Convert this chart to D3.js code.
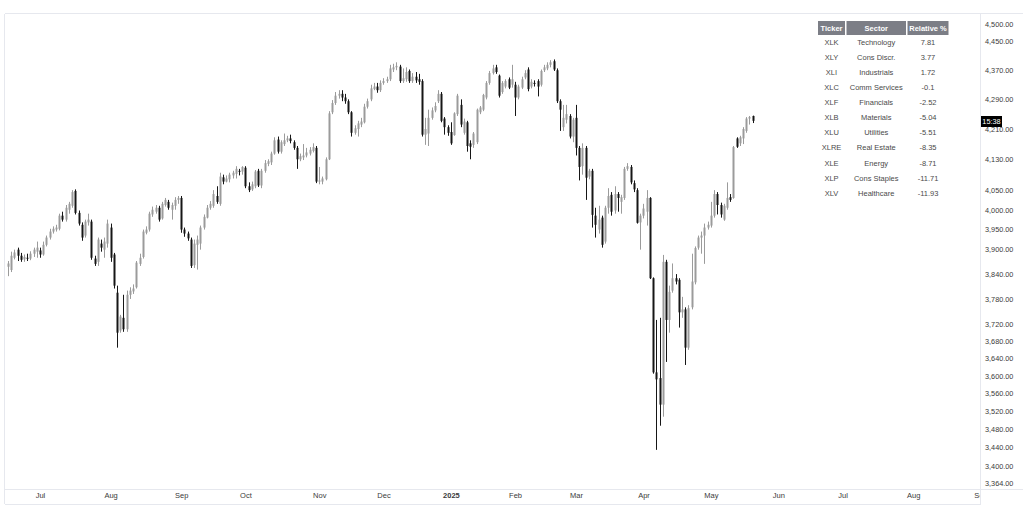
<!DOCTYPE html>
<html>
<head>
<meta charset="utf-8">
<script src="https://cdnjs.cloudflare.com/ajax/libs/d3/7.8.5/d3.min.js"></script>
<style>
  html, body { margin: 0; padding: 0; background: #fff; }
  svg { display: block; font-family: "Liberation Sans", Arial, sans-serif; }
</style>
</head>
<body>
<svg id="chart"></svg>
<script>
// daily candles, bar 0 = 14 Jun 2024, last bar = 20 May 2025
const opens = [
  3858,3850,3880,3900,3885,3876,3880,3878,3890,3895, 3898,3888,3912,3930,3945,3950,3952,3985,3975,4000,
  4010,4048,3992,3962,3935,3968,3970,3878,3870,3915, 3900,3915,3955,3888,3795,3705,3735,3708,3790,3798,
  3808,3865,3882,3942,3950,3988,3995,4005,3978,4012, 4020,4000,4010,4025,4030,3950,3940,3925,3862,3912,
  3915,3955,3980,4005,4010,4035,4015,4083,4072,4078, 4088,4092,4100,4098,4108,4060,4052,4060,4100,4062,
  4100,4118,4122,4145,4182,4150,4170,4180,4185,4175, 4160,4130,4135,4140,4145,4152,4160,4072,4072,4078,
  4130,4255,4280,4300,4305,4295,4285,4255,4200,4210, 4222,4228,4270,4290,4318,4325,4315,4335,4340,4345,
  4372,4378,4380,4340,4345,4368,4340,4352,4345,4340, 4195,4198,4240,4260,4285,4305,4238,4215,4202,4194,
  4250,4275,4200,4228,4172,4168,4175,4255,4262,4295, 4335,4362,4378,4355,4310,4325,4345,4330,4330,4295,
  4322,4350,4372,4325,4335,4340,4330,4370,4375,4385, 4395,4370,4285,4215,4235,4245,4190,4240,4160,4112,
  4160,4085,4100,3985,3950,3980,3920,4005,4038,3998, 4040,4020,4030,4105,4110,4068,4050,3968,3985,3995,
  4030,3830,3608,3595,3535,3870,3730,3800,3830,3826, 3748,3755,3665,3760,3820,3905,3930,3935,3955,3960,
  3985,4040,4012,3975,4005,4032,4030,4185,4172,4185, 4205,4238,4245
];
const highs = [
  3872,3895,3900,3905,3892,3888,3890,3896,3905,3920, 3905,3920,3935,3952,3958,3962,3990,3995,4012,4020,
  4050,4052,3998,3968,3975,3990,3975,3885,3930,3925, 3930,3975,3965,3892,3812,3742,3790,3800,3808,3815,
  3872,3890,3950,3958,3995,4008,4012,4010,4020,4030, 4025,4018,4032,4035,4035,3955,3945,3930,3925,3935,
  3960,3988,4012,4022,4050,4060,4095,4090,4088,4095, 4100,4112,4105,4112,4112,4070,4072,4102,4105,4105,
  4128,4130,4150,4188,4190,4180,4198,4192,4195,4180, 4165,4145,4170,4160,4162,4172,4165,4110,4085,4135,
  4258,4288,4310,4315,4315,4305,4290,4258,4220,4232, 4240,4278,4292,4330,4335,4335,4342,4348,4352,4385,
  4388,4392,4385,4375,4378,4372,4362,4365,4360,4345, 4240,4262,4268,4282,4315,4310,4242,4220,4228,4255,
  4305,4290,4238,4232,4180,4202,4265,4272,4305,4340, 4368,4385,4385,4358,4340,4345,4350,4385,4338,4330,
  4352,4370,4378,4345,4342,4345,4372,4385,4392,4398, 4400,4375,4290,4275,4275,4250,4240,4275,4165,4172,
  4165,4105,4105,4005,4010,3985,4010,4055,4045,4060, 4045,4038,4110,4120,4115,4075,4055,3990,4015,4050,
  4032,3832,3730,3735,3887,3875,3812,3866,3840,3830, 3785,3760,3765,3890,3908,3935,3945,3965,3970,4020,
  4050,4045,4018,4015,4070,4040,4165,4188,4192,4215, 4242,4245,4246
];
const lows = [
  3835,3845,3876,3872,3870,3870,3872,3874,3882,3880, 3880,3885,3908,3925,3940,3945,3948,3970,3970,3990,
  4005,3988,3960,3922,3930,3960,3875,3860,3860,3895, 3880,3905,3870,3805,3665,3700,3702,3702,3780,3792,
  3805,3860,3878,3938,3945,3982,3990,3970,3975,4008, 4000,3975,4000,4015,3942,3932,3922,3855,3855,3851,
  3900,3950,3978,4000,4005,4015,4010,4065,4070,4070, 4080,4080,4088,4090,4055,4045,4048,4055,4058,4055,
  4095,4112,4115,4142,4145,4145,4165,4175,4172,4155, 4105,4125,4128,4135,4140,4148,4068,4065,4065,4075,
  4128,4250,4275,4292,4285,4278,4250,4190,4195,4190, 4215,4225,4265,4285,4315,4308,4310,4330,4335,4340,
  4365,4370,4335,4335,4338,4335,4335,4335,4330,4190, 4168,4165,4235,4255,4280,4228,4195,4192,4168,4192,
  4245,4215,4195,4150,4130,4160,4170,4250,4258,4290, 4330,4358,4360,4295,4305,4320,4318,4322,4245,4290,
  4318,4345,4312,4320,4325,4298,4325,4365,4370,4378, 4368,4280,4205,4205,4225,4185,4175,4140,4075,4090,
  4025,4078,3955,3930,3940,3905,3915,3990,3985,3990, 3995,3990,4025,4100,4065,4045,3965,3900,3978,3960,
  3828,3605,3435,3488,3508,3632,3700,3795,3815,3712, 3735,3625,3660,3755,3815,3900,3890,3865,3950,3955,
  3980,3988,3980,3972,4000,4020,4028,4160,4165,4170, 4200,4222,4226
];
const closes = [
  3866,3885,3893,3885,3875,3882,3878,3890,3900,3905, 3888,3912,3930,3945,3952,3955,3985,3975,4005,4015,
  4045,3992,3965,3930,3970,3975,3880,3865,3925,3905, 3920,3965,3880,3812,3700,3738,3708,3790,3800,3805,
  3868,3880,3945,3950,3990,4000,4005,3975,4015,4025, 4005,4012,4025,4030,3950,3940,3928,3860,3915,3925,
  3955,3982,4005,4015,4040,4020,4085,4072,4080,4090, 4095,4105,4098,4110,4060,4050,4065,4098,4062,4100,
  4120,4125,4145,4180,4150,4175,4180,4185,4178,4160, 4130,4138,4140,4148,4155,4162,4072,4075,4080,4130,
  4252,4280,4300,4305,4295,4285,4255,4200,4212,4225, 4230,4270,4285,4320,4325,4315,4335,4340,4345,4375,
  4378,4382,4340,4348,4365,4340,4352,4342,4338,4195, 4210,4240,4260,4272,4305,4232,4215,4200,4172,4252,
  4300,4222,4230,4165,4163,4198,4262,4268,4302,4335, 4362,4375,4365,4300,4335,4340,4322,4345,4295,4325,
  4345,4362,4318,4338,4332,4325,4368,4378,4385,4392, 4372,4285,4262,4240,4250,4190,4235,4160,4110,4160,
  4082,4100,3987,3962,3975,3912,4005,4035,3995,4040, 4030,4032,4105,4112,4070,4052,3967,3985,4003,4030,
  3830,3608,3592,3535,3870,3730,3797,3830,3822,3748, 3755,3665,3758,3822,3904,3930,3935,3955,3962,3985,
  4040,4012,3988,4010,4030,4025,4162,4163,4188,4210, 4238,4242,4232
];

// time axis: bar index of the first session of each month
const monthTicks = [10, 32, 54, 74, 97, 117, 138, 158, 177, 198, 219, 240, 260, 282, 303];
const monthLabels = ['Jul', 'Aug', 'Sep', 'Oct', 'Nov', 'Dec', '2025', 'Feb', 'Mar', 'Apr', 'May', 'Jun', 'Jul', 'Aug', 'Sep'];

// price axis (log)
const priceTicks = [4500, 4450, 4370, 4290, 4210, 4130, 4050, 4000, 3950, 3900, 3840, 3780,
  3720, 3680, 3640, 3600, 3560, 3520, 3480, 3440, 3400, 3364];

// table
const tickers = ['XLK', 'XLY', 'XLI', 'XLC', 'XLF', 'XLB', 'XLU', 'XLRE', 'XLE', 'XLP', 'XLV'];
const sectors = ['Technology', 'Cons Discr.', 'Industrials', 'Comm Services', 'Financials', 'Materials',
  'Utilities', 'Real Estate', 'Energy', 'Cons Staples', 'Healthcare'];
const relative = ['7.81', '3.77', '1.72', '-0.1', '-2.52', '-5.04', '-5.51', '-8.35', '-8.71', '-11.71', '-11.93'];

const width = 1023
const height = 524
const plot = { left: 5, right: 980, top: 14, bottom: 489 }

const svg = d3.select('svg#chart')
  .attr('width', width)
  .attr('height', height)

const bars = d3.range(closes.length).map(i => ({
  i, o: opens[i], h: highs[i], l: lows[i], c: closes[i]
}))

const x = d3.scaleLinear()
  .domain([-0.9, 302.83])
  .range([plot.left, plot.right])

const y = d3.scaleLog()
  .domain([3350.8, 4528.6])
  .range([plot.bottom, plot.top])

const up = '#9b9b9b'
const down = '#161616'

svg.append('defs').append('clipPath').attr('id', 'clip')
  .append('rect')
  .attr('x', plot.left).attr('y', plot.top)
  .attr('width', plot.right - plot.left).attr('height', plot.bottom - plot.top)

// frame
const frame = svg.append('g').attr('stroke', '#e6e8ee').attr('fill', 'none')
frame.append('line').attr('x1', plot.left - 0.5).attr('x2', plot.left - 0.5).attr('y1', plot.top).attr('y2', 504)
frame.append('line').attr('x1', plot.right + 0.5).attr('x2', plot.right + 0.5).attr('y1', plot.top).attr('y2', 504)
frame.append('line').attr('x1', plot.left).attr('x2', width).attr('y1', plot.bottom + 0.5).attr('y2', plot.bottom + 0.5)
frame.append('line').attr('x1', plot.left).attr('x2', width).attr('y1', 504.5).attr('y2', 504.5)
frame.append('line').attr('x1', plot.left).attr('x2', width).attr('y1', plot.top - 0.5).attr('y2', plot.top - 0.5)

// candles
const candles = svg.append('g').attr('clip-path', 'url(#clip)')
  .selectAll('g.candle')
  .data(bars)
  .enter().append('g')
  .attr('class', 'candle')

candles.append('line')
  .attr('x1', d => Math.round(x(d.i)) + 0.5)
  .attr('x2', d => Math.round(x(d.i)) + 0.5)
  .attr('y1', d => y(d.h))
  .attr('y2', d => y(d.l))
  .attr('stroke', d => d.c >= d.o ? up : down)
  .attr('stroke-width', 1)

candles.append('rect')
  .attr('x', d => Math.round(x(d.i)) - 0.5)
  .attr('width', 2)
  .attr('y', d => y(Math.max(d.o, d.c)))
  .attr('height', d => Math.max(1, y(Math.min(d.o, d.c)) - y(Math.max(d.o, d.c))))
  .attr('fill', d => d.c >= d.o ? up : down)

// price axis
const yAxis = svg.append('g')
  .attr('transform', `translate(${plot.right + 4},0)`)
  .call(d3.axisRight(y).tickValues(priceTicks).tickSize(0).tickPadding(1).tickFormat(d3.format(',.2f')))
yAxis.select('.domain').remove()
yAxis.selectAll('text')
  .attr('fill', '#3a3a3a')
  .style('font-size', '7.3px')

// time axis
const xAxis = svg.append('g')
  .attr('transform', `translate(0,${plot.bottom})`)
  .call(d3.axisBottom(x).tickValues(monthTicks).tickSize(0).tickPadding(4)
    .tickFormat((d, k) => monthLabels[k]))
xAxis.select('.domain').remove()
xAxis.selectAll('text')
  .attr('fill', '#3a3a3a')
  .style('font-size', '7.5px')
  .style('font-weight', (d, k) => monthLabels[k] === '2025' ? 'bold' : 'normal')

// cover the part of the time axis under the price scale
svg.append('rect')
  .attr('x', plot.right + 1).attr('y', plot.bottom + 1)
  .attr('width', width - plot.right - 1).attr('height', 15)
  .attr('fill', '#fff')
svg.append('line')
  .attr('x1', plot.right + 0.5).attr('x2', plot.right + 0.5)
  .attr('y1', plot.bottom).attr('y2', 504)
  .attr('stroke', '#e6e8ee')

// countdown label on the last close
const last = bars[bars.length - 1]
const lab = svg.append('g').attr('transform', `translate(${plot.right + 1},${Math.round(y(last.c))})`)
lab.append('rect').attr('x', 0).attr('y', -5).attr('width', 21).attr('height', 11).attr('fill', '#000')
lab.append('text').attr('x', 10.5).attr('y', 3.3).attr('text-anchor', 'middle')
  .attr('fill', '#fff').style('font-size', '7.3px').text('15:38')

// sector table
const tbl = svg.append('g').attr('transform', 'translate(818,21)')
const cols = [
  { x: 0, w: 27, title: 'Ticker', vals: tickers },
  { x: 28.5, w: 59.5, title: 'Sector', vals: sectors },
  { x: 89.5, w: 41, title: 'Relative %', vals: relative }
]
cols.forEach(col => {
  tbl.append('rect').attr('x', col.x).attr('y', 0).attr('width', col.w).attr('height', 14).attr('fill', '#7c7e86')
  tbl.append('text').attr('x', col.x + col.w / 2).attr('y', 9.8).attr('text-anchor', 'middle')
    .attr('fill', '#fff').style('font-size', '7.5px').style('font-weight', 'bold').text(col.title)
  tbl.selectAll(null).data(col.vals).enter().append('text')
    .attr('x', col.x + col.w / 2)
    .attr('y', (d, k) => 24 + k * 15.07)
    .attr('text-anchor', 'middle')
    .attr('fill', '#4a4a4a')
    .style('font-size', '7.5px')
    .text(d => d)
})
</script>
</body>
</html>
